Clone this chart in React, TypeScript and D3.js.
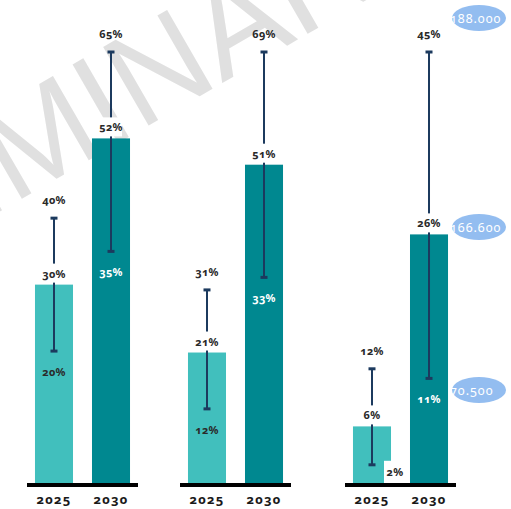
import React from "react";
import * as d3 from "d3";

// Scenario shares per region, 2025 vs 2030 (central value with low/high range)
const years = ["2025", "2030"];
const central2025 = [30, 21, 6];
const central2030 = [52, 51, 26];
const low2025 = [20, 12, 2];
const high2025 = [40, 31, 12];
const low2030 = [35, 33, 11];
const high2030 = [65, 69, 45];
const bubbleLabels = ["188.000", "166.600", "70.500"];

const W = 511;
const H = 509;
const BASE = 484;
const TOP = 52;
const groupStarts = [27, 180, 345];
const groupWidth = 111;
const bubbleY = [18, 227, 390];

const LIGHT = "#41bfbd";
const DARK = "#008890";
const NAVY = "#1c3a5e";
const TEXT = "#2a2a2a";
const FONT = "'Noto Sans', Lato, sans-serif";

type Bar = { year: string; v: number; lo: number; hi: number };

export default function App() {
  const groups = groupStarts.map((x0, i) => {
    const bars: Bar[] = [
      { year: years[0], v: central2025[i], lo: low2025[i], hi: high2025[i] },
      { year: years[1], v: central2030[i], lo: low2030[i], hi: high2030[i] },
    ];
    const x = d3
      .scaleBand<string>()
      .domain(years)
      .range([x0, x0 + groupWidth])
      .paddingInner(0.333)
      .paddingOuter(0.14);
    const y = d3
      .scaleLinear()
      .domain([0, d3.max(bars, (b) => b.hi) as number])
      .range([BASE, TOP]);
    return { x0, bars, x, y };
  });

  const labelStyle: React.CSSProperties = {
    fontFamily: FONT,
    fontWeight: 700,
    fontSize: 11,
    fontVariantNumeric: "oldstyle-nums",
    fontFeatureSettings: "'onum' 1",
    letterSpacing: 0.2,
  };

  return (
    <svg
      width={W}
      height={H}
      style={{ position: "absolute", left: 0, top: 0, background: "#fff" }}
    >
      {/* watermark */}
      <text
        transform="translate(-318,395) rotate(-30)"
        fontFamily="'Liberation Sans', Arial, sans-serif"
        fontSize={132}
        fill="#e0e0e0"
      >
        PRELIMINARY
      </text>

      {groups.map((g, gi) => (
        <g key={gi}>
          {g.bars.map((b, bi) => {
            const bx = g.x(b.year) as number;
            const bw = g.x.bandwidth();
            const cx = bx + bw / 2;
            const yTop = g.y(b.v);
            const yLo = g.y(b.lo);
            const yHi = g.y(b.hi);
            const fill = bi === 0 ? LIGHT : DARK;
            const lowInside = yLo + 25 < BASE - 4;
            return (
              <g key={bi}>
                <rect x={bx} y={yTop} width={bw} height={BASE - yTop} fill={fill} />
                <line x1={cx} x2={cx} y1={yHi} y2={yLo} stroke={NAVY} strokeWidth={2} />
                <rect x={cx - 3.5} y={yHi - 1.5} width={7} height={3} fill={NAVY} />
                <rect x={cx - 3.5} y={yLo - 1.5} width={7} height={3} fill={NAVY} />
                {/* high label */}
                <text x={cx} y={yHi - 14} textAnchor="middle" fill={TEXT} style={labelStyle}>
                  {b.hi}%
                </text>
                {/* central label on a white patch that interrupts the range line */}
                <rect x={cx - 11} y={yTop - 21} width={22} height={19} fill="#fff" />
                <text x={cx} y={yTop - 7} textAnchor="middle" fill={TEXT} style={labelStyle}>
                  {b.v}%
                </text>
                {/* low label */}
                {lowInside ? (
                  <text
                    x={cx}
                    y={yLo + 25}
                    textAnchor="middle"
                    fill={bi === 0 ? TEXT : "#ffffff"}
                    style={labelStyle}
                  >
                    {b.lo}%
                  </text>
                ) : (
                  <g>
                    <rect x={bx + bw - 7} y={yLo - 4} width={22} height={BASE - yLo + 4} fill="#fff" />
                    <text x={cx + 23} y={yLo + 11} textAnchor="middle" fill={TEXT} style={labelStyle}>
                      {b.lo}%
                    </text>
                  </g>
                )}
                <text
                  x={cx}
                  y={BASE + 20}
                  textAnchor="middle"
                  fill="#1a1a1a"
                  style={{ ...labelStyle, fontSize: 13, letterSpacing: 1.2 }}
                >
                  {b.year}
                </text>
              </g>
            );
          })}
          <line x1={g.x0} x2={g.x0 + groupWidth} y1={BASE + 1} y2={BASE + 1} stroke="#000" strokeWidth={4} />
        </g>
      ))}

      {/* side bubbles */}
      {bubbleLabels.map((t, i) => (
        <g key={t}>
          <ellipse cx={479} cy={bubbleY[i]} rx={27} ry={13} fill="#93bdf0" />
          <text
            x={450}
            y={bubbleY[i] + 4.5}
            fill="#ffffff"
            style={{ ...labelStyle, fontWeight: 400, fontSize: 12.5, letterSpacing: 1 }}
          >
            {t}
          </text>
        </g>
      ))}
    </svg>
  );
}
